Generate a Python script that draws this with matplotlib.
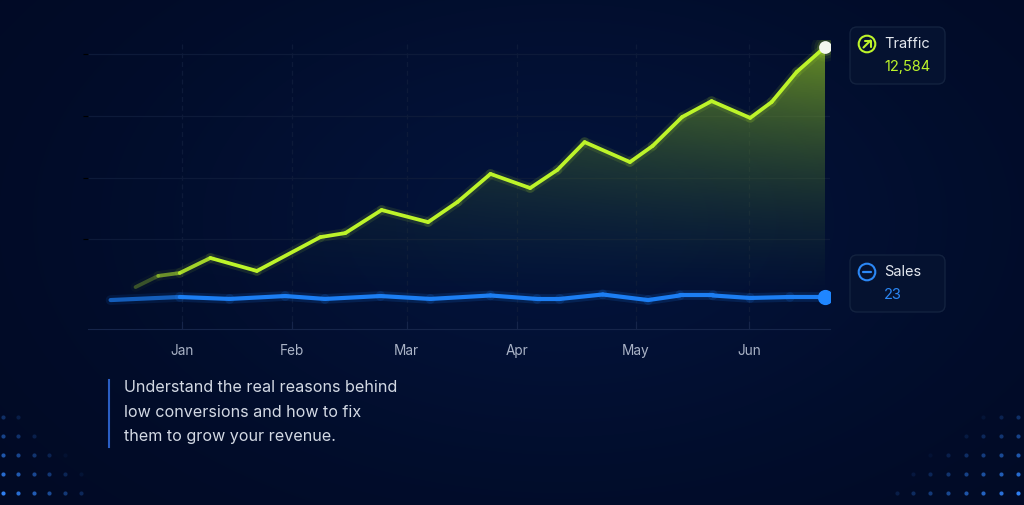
import numpy as np
import matplotlib.pyplot as plt
from matplotlib.collections import LineCollection
from matplotlib.patches import Polygon, Circle, FancyBboxPatch
from matplotlib.colors import to_rgb

plt.rcParams['font.family'] = ['Inter', 'DejaVu Sans']

# --- data (x in months, Jan = 0) ---
months = ['Jan', 'Feb', 'Mar', 'Apr', 'May', 'Jun']
month_pos = [0, 0.97, 1.98, 2.95, 4.0, 5.0]

traffic_x = [-0.41, -0.21, -0.02, 0.25, 0.66, 1.22, 1.44, 1.76, 2.17, 2.43, 2.72,
             3.07, 3.31, 3.55, 3.95, 4.15, 4.41, 4.67, 5.01, 5.20, 5.42, 5.67]
traffic = [1870, 2370, 2500, 3170, 2590, 4100, 4280, 5310, 4770, 5670, 6920,
           6290, 7100, 8340, 7450, 8170, 9460, 10170, 9420, 10130, 11470, 12584]

sales_x = [-0.63, -0.02, 0.42, 0.91, 1.26, 1.75, 2.19, 2.72, 3.13, 3.33, 3.71,
           4.11, 4.39, 4.68, 5.01, 5.36, 5.67]
sales = [20.8, 23.0, 21.6, 23.7, 21.6, 23.7, 21.6, 24.1, 21.6, 21.6, 24.8,
         20.8, 24.1, 24.1, 22.3, 23.0, 23]

caption = ("Understand the real reasons behind\n"
           "low conversions and how to fix\n"
           "them to grow your revenue.")

GREEN = '#bdf42a'
BLUE = '#1c7ef3'
BG = '#010a24'

W, H = 1024, 505
fig = plt.figure(figsize=(W / 100, H / 100), dpi=100, facecolor=BG)

# --- decoration layer in pixel coords ---
deco = fig.add_axes([0, 0, 1, 1], zorder=0)
yy, xx = np.mgrid[0:H, 0:W]
glow = np.exp(-(((xx - 560) / 430.0) ** 2 + ((yy - 220) / 260.0) ** 2))
base = np.array(to_rgb(BG))
light = np.array(to_rgb('#03133a'))
bg_img = base + (light - base) * glow[..., None]
deco.imshow(bg_img, extent=[0, W, H, 0], aspect='auto', interpolation='bilinear')
deco.set_xlim(0, W)
deco.set_ylim(H, 0)
deco.set_axis_off()

# dot grids
rows = [417, 436, 455, 474, 493]
left_cols = [3, 18, 34, 49, 65, 81]
right_cols = [897, 913, 930, 948, 966, 983, 1001, 1018]
for r, y in enumerate(rows):
    for c, x in enumerate(left_cols):
        a = 1.0 - 0.15 * c - 0.17 * (4 - r)
        if a > 0.05:
            deco.scatter(x, y, s=9, color='#2f7ff2', alpha=min(a, 1), lw=0)
    for c, x in enumerate(right_cols):
        a = 1.0 - 0.12 * (7 - c) - 0.17 * (4 - r)
        if a > 0.05:
            deco.scatter(x, y, s=9, color='#2f7ff2', alpha=min(a, 1), lw=0)

# caption
deco.plot([109, 109], [380, 447], color='#2a5ec4', lw=1.5)
deco.text(124, 380, caption, color='#d3d9e4', fontsize=11.6, va='top', ha='left',
          linespacing=1.8)

# legend cards
def card(y0, title, value, color, icon):
    deco.add_patch(FancyBboxPatch((850, y0), 95, 57,
                                  boxstyle='round,pad=0,rounding_size=7',
                                  facecolor='#051230', edgecolor='#13223f', lw=1))
    cx, cy = 867, y0 + 17
    deco.add_patch(Circle((cx, cy), 8.3, facecolor='none', edgecolor=color, lw=1.5))
    if icon == 'up':
        deco.plot([cx - 3.5, cx + 3.5], [cy + 3.5, cy - 3.5], color=color, lw=1.5,
                  solid_capstyle='round')
        deco.plot([cx - 2.5, cx + 3.5, cx + 3.5], [cy - 3.5, cy - 3.5, cy + 2.5],
                  color=color, lw=1.5, solid_capstyle='round', solid_joinstyle='round')
    else:
        deco.plot([cx - 4, cx + 4], [cy, cy], color=color, lw=1.6, solid_capstyle='round')
    deco.text(884, cy, title, color='#e4e8ef', fontsize=10.5, va='center', ha='left')
    deco.text(884, cy + 23, value, color=color, fontsize=10.5, va='center', ha='left')

card(27, 'Traffic', f'{traffic[-1]:,}', GREEN, 'up')
card(255, 'Sales', f'{sales[-1]:g}', '#2b87f5', 'minus')

# --- chart ---
x0, x1 = -0.829, 5.714
ymax = 12896
ax = fig.add_axes([88 / W, 1 - 329 / H, 742 / W, 289 / H], zorder=2)
ax.patch.set_visible(False)
ax.set_xlim(x0, x1)
ax.set_ylim(0, ymax)
for s in ['top', 'right', 'left']:
    ax.spines[s].set_visible(False)
ax.spines['bottom'].set_color('#16254a')
ax.spines['bottom'].set_linewidth(0.8)
ax.set_xticks(month_pos)
ax.set_xticklabels(months)
ax.tick_params(axis='x', direction='in', length=6, color='#16254a', labelcolor='#aab3c6',
               labelsize=9.8, pad=11)
ax.set_yticks([4000, 6750, 9500, 12250])
ax.tick_params(axis='y', left=False, labelleft=False)
ax.grid(True, axis='y', color='#0d1a39', lw=0.9)
ax.grid(True, axis='x', color='#0d1a39', lw=0.9, ls=(0, (4, 3)))
ax.set_axisbelow(True)

# gradient fill under traffic
gx = np.linspace(x0, x1, 500)
gy = np.linspace(0, ymax, 300)
GX, GY = np.meshgrid(gx, gy)
t = GY / ymax
hx = np.clip((GX - traffic_x[0]) / (traffic_x[-1] - traffic_x[0]), 0, 1)
top_c = np.array(to_rgb('#93c623'))
bot_c = np.array(to_rgb('#12363a'))
rgb = bot_c + (top_c - bot_c) * (t[..., None] ** 1.1)
alpha = 0.72 * np.clip((t - 0.12) / 0.88, 0, 1) ** 0.9 * (hx ** 0.6)
img = np.dstack([rgb, alpha])
im = ax.imshow(img, extent=[x0, x1, 0, ymax], origin='lower', aspect='auto',
               interpolation='bilinear', zorder=1)
verts = [(traffic_x[0], 0)] + list(zip(traffic_x, traffic)) + [(traffic_x[-1], 0)]
clip = Polygon(verts, closed=True, transform=ax.transData, facecolor='none', edgecolor='none')
ax.add_patch(clip)
im.set_clip_path(clip)

# traffic line with fade-in on the left
tx = np.array(traffic_x)
ty = np.array(traffic, dtype=float)
segs = np.stack([np.column_stack([tx[:-1], ty[:-1]]), np.column_stack([tx[1:], ty[1:]])], axis=1)
mid = (tx[:-1] + tx[1:]) / 2
seg_alpha = np.clip(0.15 + (mid - tx[0]) / 0.75, 0.15, 1.0)
gc = np.array(to_rgb(GREEN))
seg_cols = [(*gc, a) for a in seg_alpha]
glow_cols = [(*gc, a * 0.10) for a in seg_alpha]
ax.add_collection(LineCollection(segs, colors=glow_cols, linewidths=7, capstyle='round',
                                 joinstyle='round', zorder=3))
ax.add_collection(LineCollection(segs, colors=seg_cols, linewidths=2.7, capstyle='round',
                                 joinstyle='round', zorder=4))

# end marker with glow
for sz, a in [(420, 0.05), (260, 0.08), (150, 0.14)]:
    ax.scatter(tx[-1], ty[-1], s=sz, color=GREEN, alpha=a, lw=0, zorder=5)
ax.scatter(tx[-1], ty[-1], s=85, color='#f4f7ee', lw=0, zorder=6)

# sales on its own scale
ax2 = ax.twinx()
ax2.set_zorder(3)
ax2.patch.set_visible(False)
ax2.set_ylim(0, 207.7)
ax2.set_xlim(x0, x1)
for s in ax2.spines.values():
    s.set_visible(False)
ax2.tick_params(axis='y', right=False, labelright=False)

sx = np.array(sales_x)
sy = np.array(sales)
ssegs = np.stack([np.column_stack([sx[:-1], sy[:-1]]), np.column_stack([sx[1:], sy[1:]])], axis=1)
smid = (sx[:-1] + sx[1:]) / 2
s_alpha = np.clip(0.25 + (smid - sx[0]) / 0.7, 0.25, 1.0)
bc = np.array(to_rgb(BLUE))
ax2.add_collection(LineCollection(ssegs, colors=[(*bc, a * 0.15) for a in s_alpha],
                                  linewidths=7, capstyle='round', joinstyle='round'))
ax2.add_collection(LineCollection(ssegs, colors=[(*bc, a) for a in s_alpha],
                                  linewidths=3.0, capstyle='round', joinstyle='round'))
ax2.scatter(sx[-1], sy[-1], s=120, color='#1f86ff', lw=0, zorder=6)

fig.savefig('out.png', dpi=100, facecolor=BG)
